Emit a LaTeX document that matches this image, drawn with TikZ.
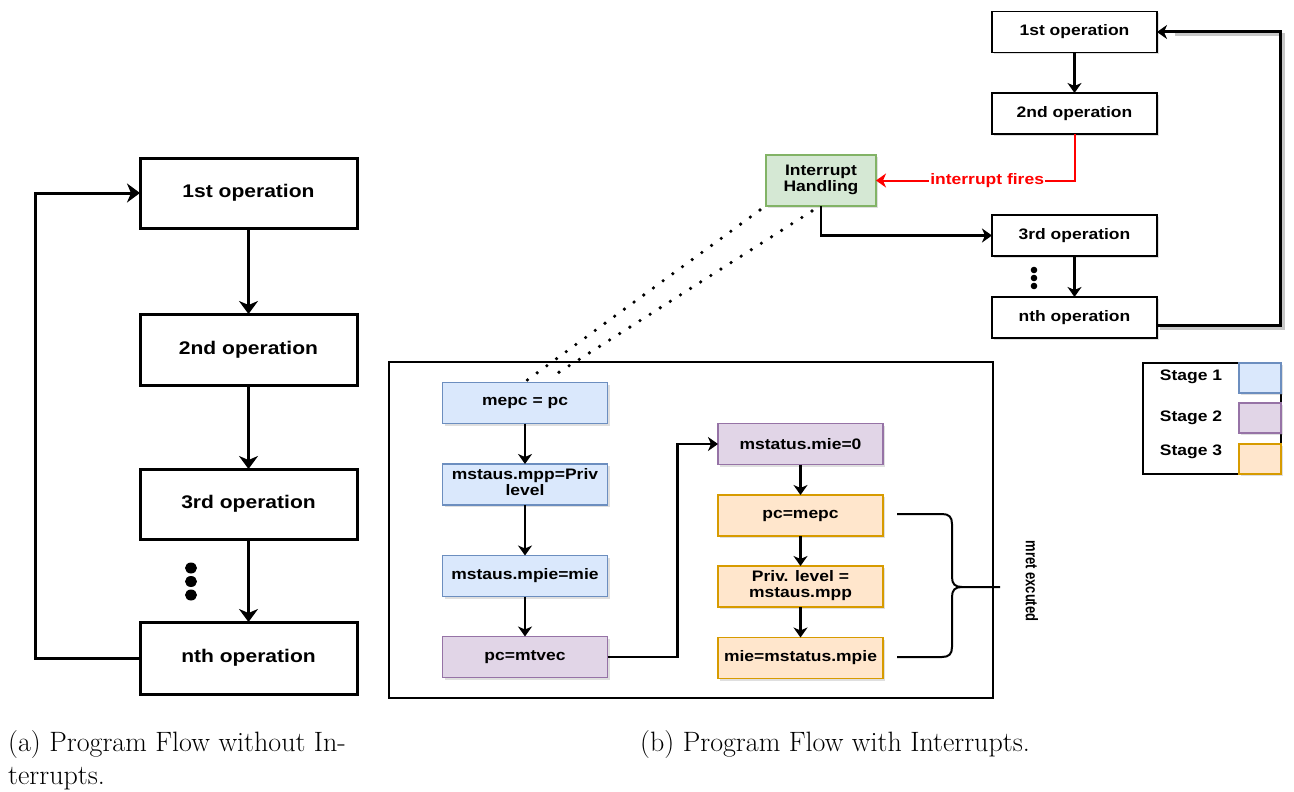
\documentclass[tikz,border=0pt]{standalone}
\usepackage{fontspec}
\usepackage{graphicx}
\newfontfamily\hv{Liberation Sans}
\usetikzlibrary{arrows.meta,shadows}

\definecolor{bluefill}{HTML}{DAE8FC}
\definecolor{blueline}{HTML}{6C8EBF}
\definecolor{purpfill}{HTML}{E1D5E7}
\definecolor{purpline}{HTML}{9673A6}
\definecolor{orfill}{HTML}{FFE6CC}
\definecolor{orline}{HTML}{D79B00}
\definecolor{grfill}{HTML}{D5E8D4}
\definecolor{grline}{HTML}{82B366}
\definecolor{firered}{HTML}{FF0000}

% box labels are set slightly wide
\newcommand{\wx}[1]{\scalebox{1.15}[1]{#1}}
\newcommand{\twol}[2]{\wx{\begin{tabular}{@{}c@{}}#1\\#2\end{tabular}}}

\tikzset{
  box/.style={draw, rectangle, inner sep=0pt, outer sep=0pt,
    drop shadow={shadow xshift=2pt, shadow yshift=-2pt, opacity=0.25}},
  bigop/.style={box, fill=white, line width=3pt, minimum width=217pt,
    minimum height=70pt, font=\hv\bfseries\fontsize{18.3}{20}\selectfont},
  op/.style={box, fill=white, line width=1.2pt, minimum width=165pt,
    minimum height=41pt, font=\hv\bfseries\fontsize{15.2}{16}\selectfont},
  stA/.style={op, fill=bluefill, draw=blueline},
  stB/.style={op, fill=purpfill, draw=purpline},
  stC/.style={op, fill=orfill, draw=orline},
  bigar/.style={line width=3pt, -{Stealth[length=13pt,width=19pt,inset=4pt]}},
  smar/.style={line width=2.2pt, -{Stealth[length=10pt,width=14pt,inset=3pt]}},
  dotline/.style={line width=3.6pt, line cap=round, dash pattern=on 0pt off 12pt},
  subcap/.style={anchor=base west, inner sep=0pt, font=\fontsize{28}{33}\selectfont},
  lgd/.style={inner sep=0pt, font=\hv\bfseries\fontsize{15.2}{16}\selectfont},
}

\begin{document}
\begin{tikzpicture}[x=1pt, y=-1pt]
\fill[white] (0,0) rectangle (1294,792);
\useasboundingbox (0,0) rectangle (1294,792);

% ---------- (a) plain program flow ----------
\node[bigop] (L1) at (248.5,193)   {\wx{1st operation}};
\node[bigop, minimum height=71pt] (L2) at (248.5,349.5) {\wx{2nd operation}};
\node[bigop] (L3) at (248.5,504)   {\wx{3rd operation}};
\node[bigop, minimum height=72pt] (L4) at (248.5,658)   {\wx{nth operation}};
\draw[bigar] (L1) -- (L2);
\draw[bigar] (L2) -- (L3);
\draw[bigar] (L3) -- (L4);
\foreach \yy in {568,581.5,595} \fill (191,\yy) ellipse (6pt and 5.5pt);
\draw[bigar] (L4.west) -- ++(-105,0) |- (L1.west);

% ---------- (b) program flow with interrupts ----------
\node[op] (R1) at (1074.5,32)    {\wx{1st operation}};
\node[op] (R2) at (1074.5,113.5) {\wx{2nd operation}};
\node[op] (R3) at (1074.5,235.5) {\wx{3rd operation}};
\node[op] (R4) at (1074.5,317.5) {\wx{nth operation}};
\draw[smar] (R1) -- (R2);
\draw[smar] (R3) -- (R4);
\foreach \yy in {270,278,286} \fill (1034,\yy) circle (3.3pt);

% return path from the last operation to the first
\coordinate (rl) at (1157,325);
\draw[line width=3pt, black!22] (1160,328) -- (1283,328) -- (1283,35) -- (1175,35);
\draw[smar, line width=3pt] (rl) -- ++(123,0) |- (R1.east);

\node[op, fill=grfill, draw=grline, minimum width=110pt, minimum height=51pt] (IH)
  at (821,180.5) {\twol{Interrupt}{Handling}};

\draw[smar, draw=firered, line width=2pt] (R2.south) |- (IH.east)
  node[pos=0.72, fill=white, inner sep=1pt, text=firered,
       font=\hv\bfseries\fontsize{15.2}{16}\selectfont] (fires) {\wx{interrupt fires}};
\draw[smar] (IH.south) |- (R3.west);

% handler body
\draw[line width=2.5pt] (389,362) rectangle (993,698);

\node[stA] (B1) at (525,403)   {\wx{mepc = pc}};
\node[stA] (B2) at (525,484.5) {\twol{mstaus.mpp=Priv}{level}};
\node[stA] (B3) at (525,576)   {\wx{mstaus.mpie=mie}};
\node[stB] (B4) at (525,657)   {\wx{pc=mtvec}};
\draw[smar] (B1) -- (B2);
\draw[smar] (B2) -- (B3);
\draw[smar] (B3) -- (B4);

\node[stB] (C1) at (800.5,444)   {\wx{mstatus.mie=0}};
\node[stC] (C2) at (800.5,515.5) {\wx{pc=mepc}};
\node[stC] (C3) at (800.5,586.5) {\twol{Priv. level =}{mstaus.mpp}};
\node[stC] (C4) at (800.5,658)   {\wx{mie=mstatus.mpie}};
\draw[smar] (C1) -- (C2);
\draw[smar] (C2) -- (C3);
\draw[smar] (C3) -- (C4);
\draw[smar] (B4.east) -- ++(70,0) |- (C1.west);

% zoom-in from the handler to its steps
\coordinate (za) at (760,210);
\coordinate (zb) at (526,381);
\coordinate (zc) at (812,211);
\coordinate (zd) at (550,378);
\draw[dotline] (za) -- (zb);
\draw[dotline] (zc) -- (zd);

% brace grouping the mret steps
\draw[line width=2pt]
  (897,514) -- (942,514) .. controls (949,514) and (952,517) .. (952,524)
  -- (952,577) .. controls (952,584) and (955,587) .. (962,587) -- (1000,587);
\draw[line width=2pt]
  (897,657) -- (942,657) .. controls (949,657) and (952,654) .. (952,647)
  -- (952,597) .. controls (952,590) and (955,587) .. (962,587);
\node[rotate=-90, inner sep=0pt, font=\hv\bfseries\fontsize{13}{15}\selectfont]
  (mret) at (1032,581) {\scalebox{1}[1.3]{mret excuted}};

% legend
\draw[line width=1.2pt] (1143,363) rectangle (1281,474);
\node[box, fill=bluefill, draw=blueline, line width=1.2pt, minimum width=42pt, minimum height=30pt] (K1) at (1260,378) {};
\node[box, fill=purpfill, draw=purpline, line width=1.2pt, minimum width=42pt, minimum height=30pt] (K2) at (1260,418) {};
\node[box, fill=orfill, draw=orline, line width=1.2pt, minimum width=42pt, minimum height=30pt] (K3) at (1260,459) {};
\node[lgd] (T1) at (1191,377) {\wx{Stage 1}};
\node[lgd] (T2) at (1191,418) {\wx{Stage 2}};
\node[lgd] (T3) at (1191,452) {\wx{Stage 3}};

% captions
\node[subcap] (capa) at (8,751) {(a) Program Flow without In-};
\node[subcap] (capa2) at (8,784) {terrupts.};
\node[subcap] (capb) at (640,751) {(b) Program Flow with Interrupts.};
\end{tikzpicture}
\end{document}
